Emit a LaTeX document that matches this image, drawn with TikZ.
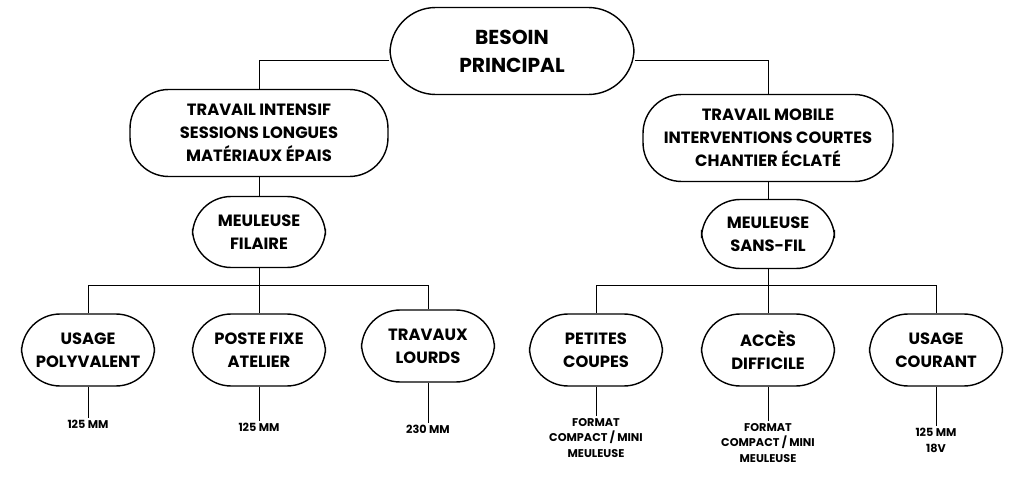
\documentclass[tikz,border=0pt]{standalone}
\usepackage{fontspec}
\setmainfont{Poppins}
\usetikzlibrary{positioning}
\tikzset{
  boite/.style={draw, thick, rounded corners=22pt, fill=white, align=center,
    font=\bfseries\fontsize{9.3}{13}\selectfont, inner sep=2pt},
  petit/.style={align=center, font=\bfseries\fontsize{6.4}{9}\selectfont, inner sep=1pt},
  lien/.style={thin}
}
\begin{document}
\begin{tikzpicture}[x=0.02cm,y=-0.02cm]
\useasboundingbox (0,0) rectangle (1024,480);

% niveau 1
\node[boite, minimum width=4.88cm, minimum height=1.74cm, rounded corners=26pt,
  font=\bfseries\fontsize{11.5}{16}\selectfont] (besoin) at (512,51) {BESOIN\\PRINCIPAL};

% niveau 2
\node[boite, minimum width=5.16cm, minimum height=1.74cm] (intensif) at (259,133)
  {TRAVAIL INTENSIF\\SESSIONS LONGUES\\MATÉRIAUX ÉPAIS};
\node[boite, minimum width=5.0cm, minimum height=1.74cm] (mobile) at (768,138)
  {TRAVAIL MOBILE\\INTERVENTIONS COURTES\\CHANTIER ÉCLATÉ};

% niveau 3
\node[boite, minimum width=2.66cm, minimum height=1.42cm] (filaire) at (259,232) {MEULEUSE\\FILAIRE};
\node[boite, minimum width=2.66cm, minimum height=1.38cm] (sansfil) at (768,234) {MEULEUSE\\SANS-FIL};

% niveau 4
\foreach \nom/\x/\y/\txt in {poly/88/350/{USAGE\\POLYVALENT}, fixe/259/350/{POSTE FIXE\\ATELIER},
  lourd/428/346/{TRAVAUX\\LOURDS}, coupe/596/350/{PETITES\\COUPES},
  acces/768/350/{ACCÈS\\DIFFICILE}, courant/936/350/{USAGE\\COURANT}}
  \node[boite, minimum width=2.66cm, minimum height=1.44cm] (\nom) at (\x,\y) {\txt};

% textes du bas
\node[petit, anchor=north] (tpoly) at (88,418) {125 MM};
\node[petit, anchor=north] (tfixe) at (259,421) {125 MM};
\node[petit, anchor=north] (tlourd) at (428,423) {230 MM};
\node[petit, anchor=north] (tcoupe) at (596,416) {FORMAT\\COMPACT / MINI\\MEULEUSE};
\node[petit, anchor=north] (tacces) at (768,421) {FORMAT\\COMPACT / MINI\\MEULEUSE};
\node[petit, anchor=north] (tcourant) at (936,426) {125 MM\\18V};

% liens
\draw[lien] (besoin.west |- 0,60) -| (intensif.north);
\draw[lien] (besoin.east |- 0,60) -| (mobile.north);
\draw[lien] (intensif) -- (filaire);
\draw[lien] (mobile) -- (sansfil);
\coordinate (busg) at (259,285);
\coordinate (busd) at (768,285);
\draw[lien] (filaire.south) -- (busg);
\draw[lien] (sansfil.south) -- (busd);
\foreach \b in {poly,fixe,lourd} \draw[lien] (busg) -| (\b.north);
\foreach \b in {coupe,acces,courant} \draw[lien] (busd) -| (\b.north);
\foreach \b in {poly,fixe,lourd,coupe,acces,courant} \draw[lien] (\b.south) -- (t\b.north);
\end{tikzpicture}
\end{document}
